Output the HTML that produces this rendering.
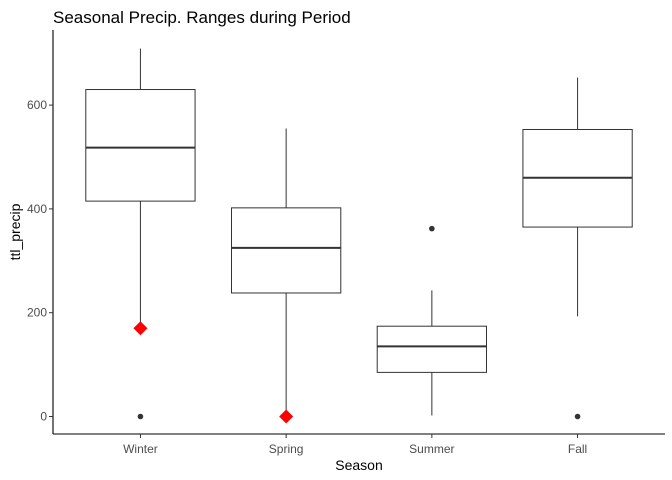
<!DOCTYPE html>
<html><head><meta charset="utf-8"><style>
html,body{margin:0;padding:0;background:#fff;}
svg{display:block;font-family:"Liberation Sans",sans-serif;}
</style></head><body>
<svg id="chart" width="672" height="480">
<text x="53" y="23" font-size="17" fill="#000">Seasonal Precip. Ranges during Period</text>
<g id="plot"></g>
<text x="359" y="470" font-size="14" text-anchor="middle" fill="#000">Season</text>
<text transform="translate(20,232) rotate(-90)" font-size="14" text-anchor="middle" fill="#000">ttl_precip</text>
</svg>
<script>
const categories=["Winter","Spring","Summer","Fall"];
const whiskerLow=[170,0,2,193];
const q1=[415,238,85,365];
const medians=[518,325,135,460];
const q3=[630,402,174,553];
const whiskerHigh=[709,555,243,653];
const outlierCat=[0,2,3];
const outlierVal=[0,362,0];
const meanCat=[0,1];
const meanVal=[170,0];
const yTicks=[0,200,400,600];

const L=53,R=665,T=30,B=434;
const y=v=>416.5-v*(416.5-312.7)/200;
const x=i=>L+(i+1-0.4)*(R-L)/4.2;
const bw=0.75*(R-L)/4.2;
const g=document.getElementById('plot');
const NS="http://www.w3.org/2000/svg";
function mk(t,a){const e=document.createElementNS(NS,t);for(const k in a)e.setAttribute(k,a[k]);g.appendChild(e);return e;}

let e=mk('line',{x1:L,y1:T,x2:L,y2:B,stroke:'#000','stroke-width':1.1});


e=mk('line',{x1:L,y1:B,x2:R,y2:B,stroke:'#000','stroke-width':1.1});



yTicks.forEach(v=>{
 let t=mk('line',{x1:L-4,x2:L,y1:y(v),y2:y(v),stroke:'#333'});
 
 
 let l=mk('text',{x:L-6,y:y(v)+4,'font-size':12,'text-anchor':'end',fill:'#4d4d4d'});
 l.textContent=v;
 
 
});

categories.forEach((c,i)=>{
 const cx=x(i);
 let t=mk('line',{x1:cx,x2:cx,y1:B,y2:B+4,stroke:'#333'});
 
 
 let l=mk('text',{x:cx,y:B+19,'font-size':12,'text-anchor':'middle',fill:'#4d4d4d'});
 l.textContent=c;
 
 
 let w1=mk('line',{x1:cx,x2:cx,y1:y(whiskerHigh[i]),y2:y(q3[i]),stroke:'#333'});
 
 
 let w2=mk('line',{x1:cx,x2:cx,y1:y(q1[i]),y2:y(whiskerLow[i]),stroke:'#333'});
 
 
 let b=mk('rect',{x:cx-bw/2,y:y(q3[i]),width:bw,height:y(q1[i])-y(q3[i]),fill:'#fff',stroke:'#333'});
 
 
 let m=mk('line',{x1:cx-bw/2,x2:cx+bw/2,y1:y(medians[i]),y2:y(medians[i]),stroke:'#333','stroke-width':2});
 
 
});

outlierCat.forEach((ci,k)=>{
 let p=mk('circle',{cx:x(ci),cy:y(outlierVal[k]),r:2.8,fill:'#333'});
 
 
});
meanCat.forEach((ci,k)=>{
 const cx=x(ci),cy=y(meanVal[k]),s=7;
 let p=mk('polygon',{points:`${cx},${cy-s} ${cx+s},${cy} ${cx},${cy+s} ${cx-s},${cy}`,fill:'#ff0000'});
 
 
});
</script>
</body></html>
